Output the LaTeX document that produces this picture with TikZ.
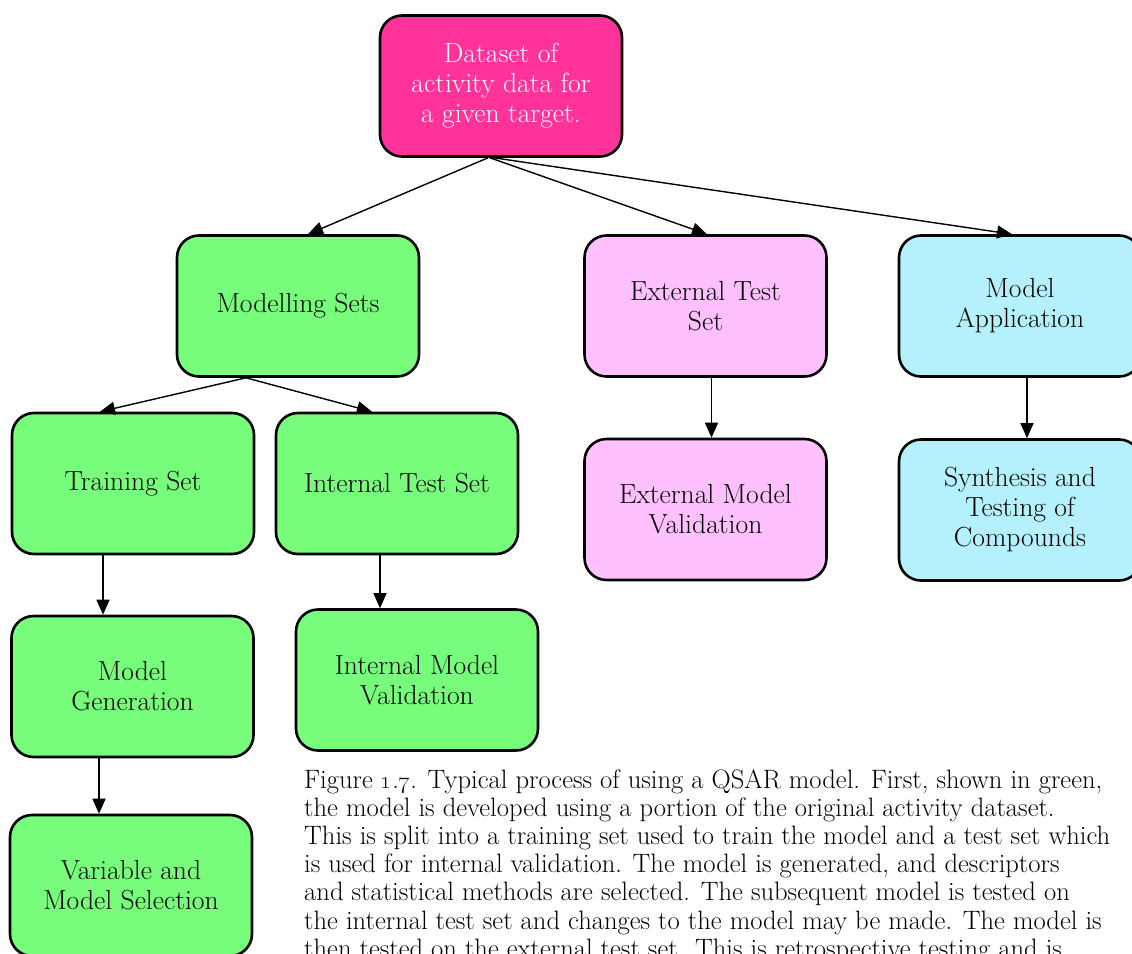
\documentclass[tikz,border=0pt]{standalone}
\usetikzlibrary{arrows.meta,calc}

\definecolor{datapink}{RGB}{255,51,153}
\definecolor{modelgreen}{RGB}{119,252,123}
\definecolor{extpink}{RGB}{255,192,255}
\definecolor{appcyan}{RGB}{180,241,253}

\begin{document}
\begin{tikzpicture}[x=1pt,y=-1pt,
  box/.style={draw=black, line width=2.6pt, rounded corners=22pt,
    minimum width=242pt, minimum height=141pt, align=center, inner sep=0pt,
    font=\fontsize{27.6}{30}\selectfont},
  greenbox/.style={box, fill=modelgreen},
  extbox/.style={box, fill=extpink},
  appbox/.style={box, fill=appcyan},
  link/.style={line width=1.4pt, -{Triangle[length=15pt,width=13pt]}},
  capline/.style={anchor=base west, inner sep=0pt,
    font=\fontsize{26.6}{28}\selectfont}]

\useasboundingbox (0,0) rectangle (1132,953);
\clip (0,0) rectangle (1132,953);

% top level: the source data
\node[box, fill=datapink, text=white] (ds) at (501,86)
  {Dataset of\\activity data for\\a given target.};

% second level
\node[greenbox] (ms) at (298,306) {Modelling Sets};
\node[extbox] (ext) at (705.5,306) {External Test\\Set};
\node[appbox] (app) at (1020,306) {Model\\Application};

% modelling branch
\node[greenbox] (tr) at (133,483.5) {Training Set};
\node[greenbox] (its) at (397,483.5) {Internal Test Set};
\node[greenbox] (mg) at (132.5,686.5) {Model\\Generation};
\node[greenbox] (iv) at (417,680) {Internal Model\\Validation};
\node[greenbox] (vs) at (131,885.5) {Variable and\\Model Selection};

% external test and application branches
\node[extbox] (extv) at (705.5,509.5) {External Model\\Validation};
\node[appbox] (syn) at (1020,510) {Synthesis and\\Testing of\\Compounds};

% connectors
\draw[link] ($(ds.south)+(-13,0)$) -- ($(ms.north)+(10,0)$);
\draw[link] ($(ds.south)+(-11,0)$) -- ($(ext.north)+(1.5,0)$);
\draw[link] ($(ds.south)+(-7,0)$) -- ($(app.north)+(-8,0)$);
\draw[link] ($(ms.south)+(-52,0)$) -- ($(tr.north)+(-33,0)$);
\draw[link] ($(ms.south)+(-52,0)$) -- ($(its.north)+(-25,0)$);
\draw[link] ($(tr.south)+(-30,0)$) -- ($(mg.north)+(-29.5,0)$);
\draw[link] ($(its.south)+(-17,0)$) -- ($(iv.north)+(-37,0)$);
\draw[link] ($(ext.south)+(6,0)$) -- ($(extv.north)+(6,0)$);
\draw[link] ($(app.south)+(7,0)$) -- ($(syn.north)+(7,0)$);
\draw[link] ($(mg.south)+(-33.5,0)$) -- ($(vs.north)+(-32,0)$);

% caption (its last line runs off the lower edge)
\node[capline] (cap1) at (304,788) {Figure \oldstylenums{1}.\oldstylenums{7}. Typical process of using a QSAR model. First, shown in green,};
\node[capline] (cap2) at (304,816.2) {the model is developed using a portion of the original activity dataset.};
\node[capline] (cap3) at (304,844.4) {This is split into a training set used to train the model and a test set which};
\node[capline] (cap4) at (304,872.6) {is used for internal validation. The model is generated, and descriptors};
\node[capline] (cap5) at (304,900.8) {and statistical methods are selected. The subsequent model is tested on};
\node[capline] (cap6) at (304,929) {the internal test set and changes to the model may be made. The model is};
\node[capline] (cap7) at (304,957.2) {then tested on the external test set. This is retrospective testing and is};
\end{tikzpicture}
\end{document}
